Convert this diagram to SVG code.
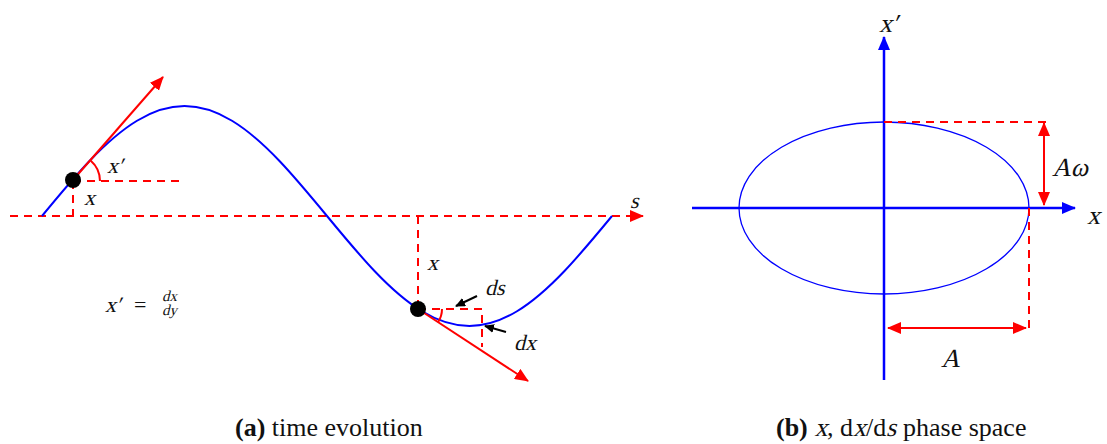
<svg xmlns="http://www.w3.org/2000/svg" width="1107" height="444" viewBox="0 0 1107 444">
<style>
.red{stroke:#ff0000;stroke-width:2;fill:none}
.dash{stroke:#ff0000;stroke-width:2;fill:none;stroke-dasharray:8 6}
.blue{stroke:#0000ff;stroke-width:2;fill:none}
.axis{stroke:#0000ff;stroke-width:2.5;fill:none}
.blk{stroke:#000;stroke-width:2;fill:none}
.m{font-family:"Liberation Serif",serif;fill:#111}
.cap{font-family:"Liberation Serif",serif;font-size:26px;fill:#111}
</style>
<defs>
<marker id="ar" markerUnits="userSpaceOnUse" markerWidth="14" markerHeight="12" refX="13" refY="6" orient="auto-start-reverse"><path d="M0,0 L14,6 L0,12 z" fill="#ff0000"/></marker>
<marker id="ab" markerUnits="userSpaceOnUse" markerWidth="14" markerHeight="12" refX="13" refY="6" orient="auto"><path d="M0,0 L14,6 L0,12 z" fill="#0000ff"/></marker>
<marker id="ak" markerUnits="userSpaceOnUse" markerWidth="10" markerHeight="9" refX="9" refY="4.5" orient="auto"><path d="M0,0 L10,4.5 L0,9 z" fill="#000"/></marker>
</defs>

<g id="panel-a">
<g id="connectors-a">
<line class="dash" x1="10" y1="216" x2="643" y2="216" marker-end="url(#ar)"/>
<path class="blue" d="M42,216 C57.83,196.8 73.67,177.63 89.5,161 C105.33,144.37 121.17,130.34 137,120.74 C152.83,111.14 168.67,106 184.5,106 C200.33,106 216.17,111.14 232,120.74 C247.83,130.34 263.67,144.37 279.5,161 C295.33,177.63 311.17,196.8 327,216 C342.83,235.2 358.67,254.37 374.5,271 C390.33,287.63 406.17,301.66 422,311.26 C437.83,320.86 453.67,326 469.5,326 C485.33,326 501.17,320.86 517,311.26 C532.83,301.66 548.67,287.63 564.5,271 C580.33,254.37 596.17,235.2 612,216"/>
<line class="dash" x1="73" y1="181" x2="182" y2="181"/>
<line class="dash" x1="73" y1="181" x2="73" y2="216"/>
<path class="red" d="M100,181 A27,27 0 0 0 90.8,160.7"/>
<line class="red" x1="73" y1="180" x2="163" y2="77" marker-end="url(#ar)"/>
<line class="dash" x1="418" y1="216" x2="418" y2="309"/>
<path class="dash" d="M418,309 H482 V347"/>
<path class="red" d="M442,309 A24,24 0 0 1 438.1,322.1"/>
<line class="red" x1="418" y1="309" x2="528" y2="381" marker-end="url(#ar)"/>
<line class="blk" x1="477" y1="296" x2="456" y2="306" marker-end="url(#ak)"/>
<line class="blk" x1="506" y1="332" x2="485" y2="326" marker-end="url(#ak)"/>
</g>
<g id="point1"><circle cx="73" cy="180" r="8" fill="#000"/></g>
<g id="point2"><circle cx="418" cy="309" r="8" fill="#000"/></g>
<g id="labels-a" class="m" font-size="22">
<g transform="translate(107,173) skewX(-14)"><text>x′</text></g>
<g transform="translate(84,205) skewX(-14)"><text>x</text></g>
<g transform="translate(630,208) skewX(-14)"><text>s</text></g>
<g transform="translate(427,270) skewX(-14)"><text>x</text></g>
<g transform="translate(485,295) skewX(-14)"><text>ds</text></g>
<g transform="translate(514,350) skewX(-14)"><text>dx</text></g>
<g transform="translate(105,312) skewX(-14)"><text>x′</text></g>
<text x="134" y="312" font-size="22">=</text>
<g transform="translate(162,301) skewX(-14)"><text font-size="15">dx</text></g>
<g transform="translate(162,315) skewX(-14)"><text font-size="15">dy</text></g>
</g>
<text class="cap" x="235" y="436"><tspan font-weight="bold">(a)</tspan> time evolution</text>
</g>

<g id="panel-b">
<g id="connectors-b">
<ellipse cx="884" cy="208" rx="145" ry="86" fill="none" stroke="#0000ff" stroke-width="1.3"/>
<line class="axis" x1="692" y1="208" x2="1075" y2="208" marker-end="url(#ab)"/>
<line class="axis" x1="884" y1="380" x2="884" y2="37" marker-end="url(#ab)"/>
<line class="dash" x1="884" y1="122" x2="1046" y2="122"/>
<line class="dash" x1="1029" y1="208" x2="1029" y2="333"/>
<line class="red" x1="1044" y1="123" x2="1044" y2="205" marker-start="url(#ar)" marker-end="url(#ar)"/>
<line class="red" x1="888" y1="328" x2="1026" y2="328" marker-start="url(#ar)" marker-end="url(#ar)"/>
</g>
<g id="labels-b" class="m" font-size="26">
<g transform="translate(879,32) skewX(-14)"><text>x′</text></g>
<g transform="translate(1087,224) skewX(-14)"><text>x</text></g>
<g transform="translate(1052,176) skewX(-14)"><text>Aω</text></g>
<g transform="translate(941,367) skewX(-14)"><text>A</text></g>
</g>
<g id="caption-b" class="cap">
<text x="776" y="436" font-weight="bold">(b)</text>
<g transform="translate(814.5,436) skewX(-14)"><text>x</text></g>
<text x="827" y="436">, d</text>
<g transform="translate(853,436) skewX(-14)"><text>x</text></g>
<text x="866" y="436">/d</text>
<g transform="translate(886,436) skewX(-14)"><text>s</text></g>
<text x="903" y="436">phase space</text>
</g>
</g>
</svg>
